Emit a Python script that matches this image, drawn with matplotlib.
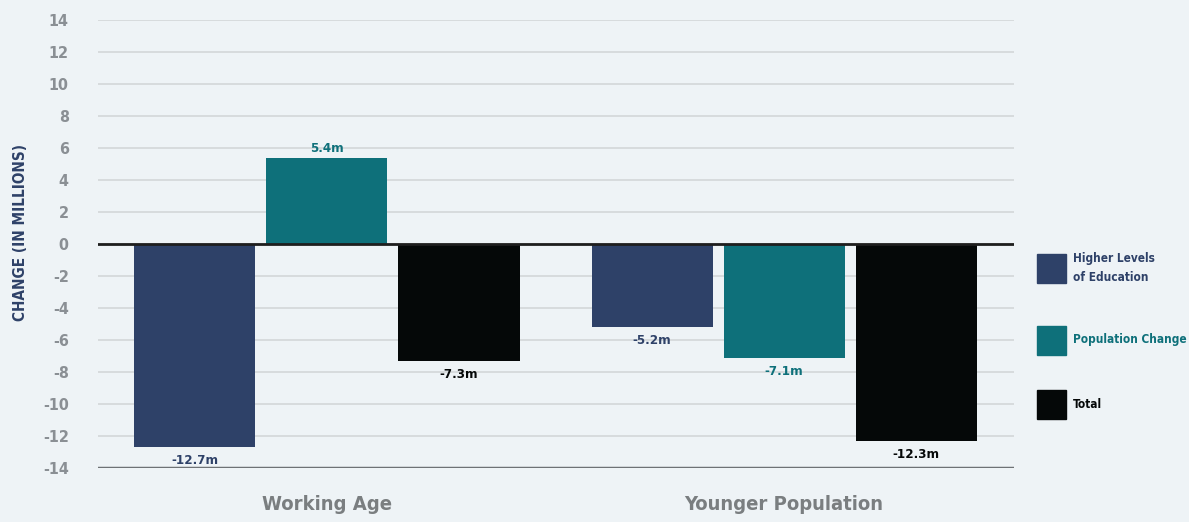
import matplotlib
matplotlib.use('Agg')
import matplotlib.pyplot as plt
import numpy as np

# data
groups = ['Working Age', 'Younger Population']
series = ['Higher Levels\nof Education', 'Population Change', 'Total']
education = [-12.7, -5.2]
population = [5.4, -7.1]
total = [-7.3, -12.3]
value_labels = [['-12.7m', '-5.2m'], ['5.4m', '-7.1m'], ['-7.3m', '-12.3m']]
y_ticks = list(range(-14, 15, 2))

colors = ['#2e4168', '#0e707a', '#050808']
bg = '#eef3f6'

plt.rcParams['font.family'] = ['DejaVu Sans']
plt.rcParams['font.stretch'] = 'condensed'

fig = plt.figure(figsize=(11.89, 5.22), dpi=100, facecolor=bg)
ax = fig.add_axes([0.0824, 0.1034, 0.7704, 0.8583], facecolor=bg)

x = np.arange(len(groups))
offset = 0.2888
width = 0.2648

for i, vals in enumerate([education, population, total]):
    pos = x + (i - 1) * offset
    ax.bar(pos, vals, width=width, color=colors[i], zorder=3)
    for xp, v, lab in zip(pos, vals, value_labels[i]):
        va = 'bottom' if v > 0 else 'top'
        dy = 0.15 if v > 0 else -0.45
        ax.text(xp, v + dy, lab, ha='center', va=va, color=colors[i],
                fontsize=9.5, fontweight='bold', stretch='condensed', zorder=4)

ax.set_xlim(-0.501, 1.503)
ax.set_ylim(-14, 14)
ax.set_yticks(y_ticks)
ax.set_yticklabels([str(t) for t in y_ticks], color='#8a8f94', fontsize=11.5,
                   fontweight='bold', stretch='condensed')
ax.tick_params(axis='y', length=0, pad=21)
ax.set_xticks([])

ax.grid(axis='y', color='#d3d7d9', linewidth=1.2, zorder=0)
ax.axhline(0, color='#1e1e1e', linewidth=2, zorder=5)
ax.axhline(-14, color='#6e7275', linewidth=2.5, zorder=5)
for s in ax.spines.values():
    s.set_visible(False)

# category labels under the groups
for xp, g in zip(x, groups):
    ax.text(xp, -16.3, g, ha='center', va='center', color='#7a7e80',
            fontsize=14.5, fontweight='bold', stretch='condensed', clip_on=False)

fig.text(0.017, 0.555, 'CHANGE (IN MILLIONS)', rotation=90, ha='center', va='center',
         color='#2e4168', fontsize=11, fontweight='bold', stretch='condensed')

# legend built by hand
leg_y = [268, 340, 404]
for c, name, yy in zip(colors, series, leg_y):
    fig.patches.append(plt.Rectangle((1037 / 1189, 1 - (yy + 14.5) / 522), 29 / 1189, 29 / 522,
                                     transform=fig.transFigure, color=c, figure=fig))
    fig.text(1073 / 1189, 1 - yy / 522, name, ha='left', va='center', color=c,
             fontsize=8.5, fontweight='bold', stretch='condensed', linespacing=1.6)

fig.savefig('out.png', dpi=100, facecolor=bg)
